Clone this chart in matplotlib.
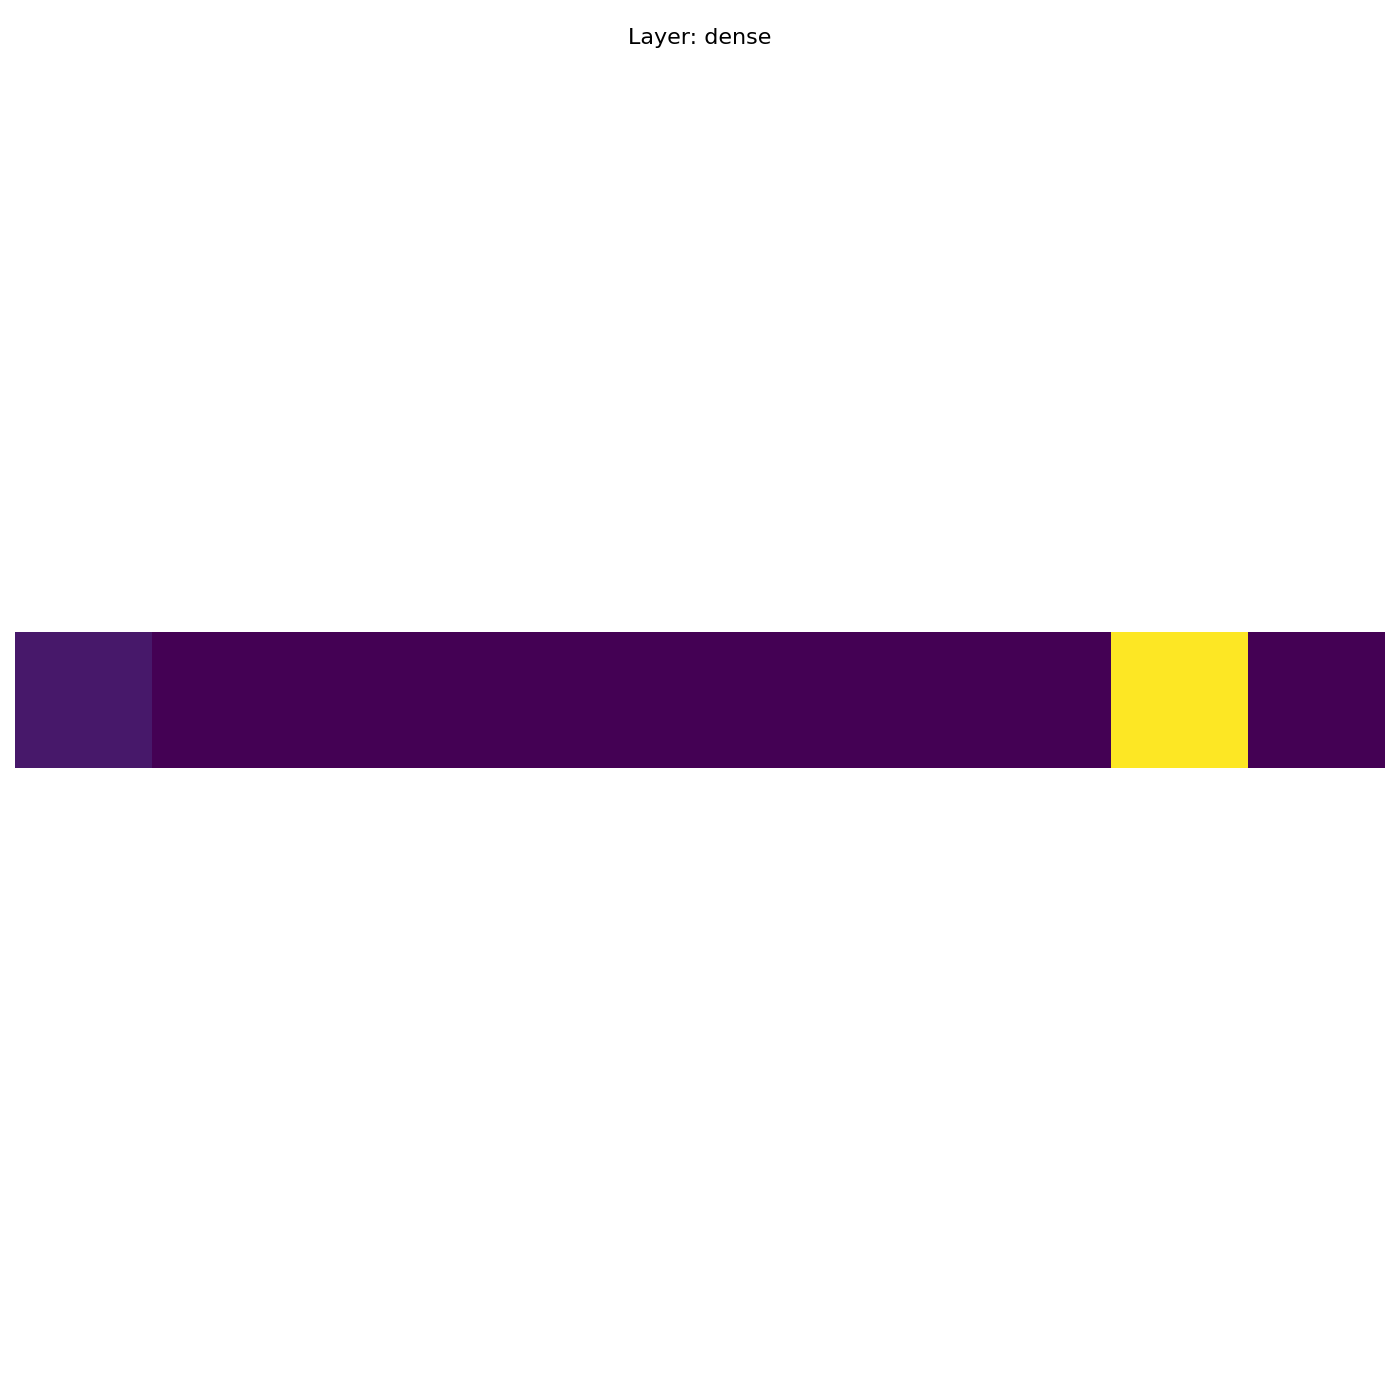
import numpy as np
import matplotlib
matplotlib.use("Agg")
import matplotlib.pyplot as plt

layer_name = "dense"
activations = [0.065, 0.0, 0.0, 0.0, 0.0, 0.0, 0.0, 0.0, 1.0, 0.0]

fig = plt.figure(figsize=(14, 14), dpi=100)
ax = fig.add_axes([15 / 1400, 0.0, 1370 / 1400, 1.0])
ax.imshow(np.array(activations).reshape(1, -1), cmap="viridis", aspect="equal")
ax.axis("off")
fig.suptitle(f"Layer: {layer_name}", fontsize=16, y=0.98)
fig.savefig("out.png", dpi=100)
